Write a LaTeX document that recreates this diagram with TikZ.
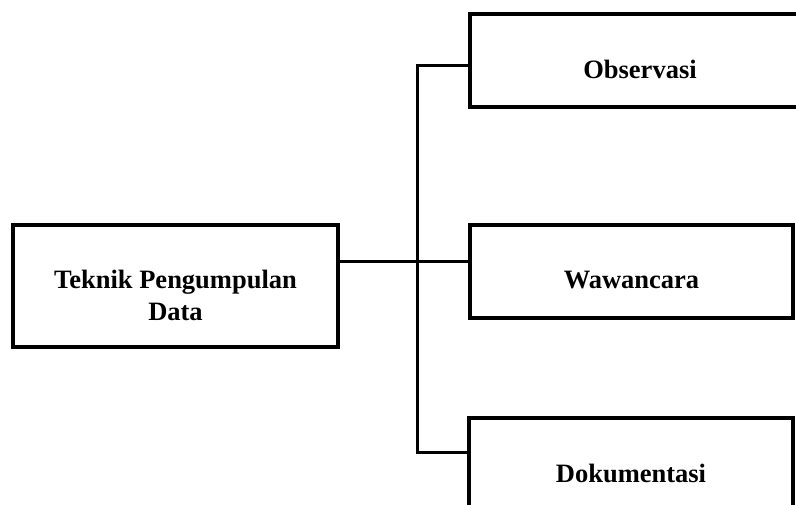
\documentclass[tikz,border=0pt]{standalone}
\usepackage{fontspec}
\setmainfont{Liberation Serif}
\begin{document}
\begin{tikzpicture}[x=1pt,y=-1pt,
    box/.style={draw,line width=4pt,minimum height=93pt,inner sep=0pt},
    lbl/.style={font=\bfseries\fontsize{26.5}{32}\selectfont,align=center,yshift=-9pt},
    conn/.style={line width=3pt}]
      \useasboundingbox (0,0) rectangle (796,504);
      \clip (0,0) rectangle (796,504);
      \node[box,minimum width=325pt,minimum height=122pt,
        label={[lbl]center:Teknik Pengumpulan\\Data}] (teknik) at (175.5,286) {};
      \node[box,minimum width=340pt,
        label={[lbl]center:Observasi}] (observasi) at (640,60.5) {};
      \node[box,minimum width=323pt,
        label={[lbl]center:Wawancara}] (wawancara) at (631.5,271.5) {};
      \node[box,minimum width=324pt,
        label={[lbl]center:Dokumentasi}] (dokumentasi) at (631,464.5) {};
      \coordinate (hub) at (417,261);
      \coordinate (top) at (417,65);
      \coordinate (bottom) at (417,452);
      \begin{scope}[conn]
        \draw (teknik.east |- hub) to (wawancara.west |- hub);
        \draw (observasi.west |- top) to (top) to (bottom) to (dokumentasi.west |- bottom);
      \end{scope}
    \end{tikzpicture}
\end{document}
